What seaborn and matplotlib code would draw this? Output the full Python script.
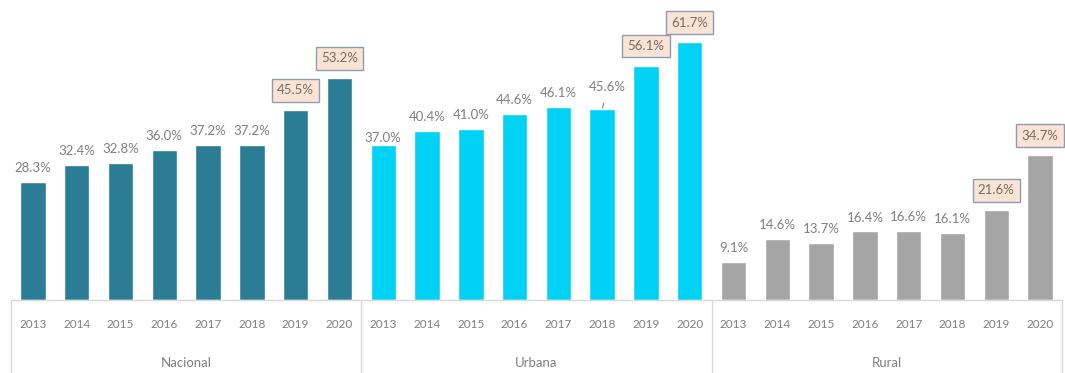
import matplotlib
matplotlib.use("Agg")
import matplotlib.pyplot as plt
import matplotlib.transforms as mtransforms
import seaborn as sns
import pandas as pd

# Share of households (%) by area, 2013-2020
years = [2013, 2014, 2015, 2016, 2017, 2018, 2019, 2020]
areas = ["Nacional", "Urbana", "Rural"]
nacional = [28.3, 32.4, 32.8, 36.0, 37.2, 37.2, 45.5, 53.2]
urbana = [37.0, 40.4, 41.0, 44.6, 46.1, 45.6, 56.1, 61.7]
rural = [9.1, 14.6, 13.7, 16.4, 16.6, 16.1, 21.6, 34.7]
highlight_years = [2019, 2020]

area_colors = {"Nacional": "#2a7d94", "Urbana": "#00d2f5", "Rural": "#a5a5a5"}

rows = []
for area, vals in zip(areas, [nacional, urbana, rural]):
    for y, v in zip(years, vals):
        rows.append({"key": f"{area}-{y}", "area": area, "year": y, "value": v})
df = pd.DataFrame(rows)

sns.set_theme(style="white")
plt.rcParams["font.family"] = ["Lato", "DejaVu Sans"]

fig = plt.figure(figsize=(10.65, 3.73), dpi=100)
ax = fig.add_axes([11 / 1065, 73 / 373, 1051 / 1065, 300 / 373])

sns.barplot(data=df, x="key", y="value", hue="area", palette=area_colors,
            dodge=False, width=0.58, saturation=1, legend=False, ax=ax)

ax.set_ylim(0, 71.8)
ax.set_xlim(-0.5, len(df) - 0.5)
ax.set_xlabel("")
ax.set_ylabel("")
ax.set_yticks([])
ax.set_xticks(range(len(df)))
ax.set_xticklabels([str(y) for y in df["year"]], fontsize=8.5, color="#808080")
ax.tick_params(axis="x", length=0, pad=14)
for s in ["top", "left", "right"]:
    ax.spines[s].set_visible(False)
ax.spines["bottom"].set_color("#d9d9d9")
ax.spines["bottom"].set_linewidth(1.0)

label_color = "#808080"
label_size = 9.5

# Value labels; the latest two years are boxed
for i, r in df.iterrows():
    label = f"{r['value']:.1f}%"
    if r["year"] in highlight_years:
        ax.annotate(label, (i, r["value"]), xytext=(0, 14), textcoords="offset points",
                    ha="center", va="center", fontsize=label_size, color="#7d6b5f",
                    bbox=dict(boxstyle="square,pad=0.4", fc="#fbe4d5", ec="#8e9cb2", lw=1.0))
    elif r["area"] == "Urbana" and r["year"] == 2018:
        ax.annotate(label, (i, r["value"]), xytext=(4, 16), textcoords="offset points",
                    ha="center", va="center", fontsize=label_size, color=label_color,
                    arrowprops=dict(arrowstyle="-", color=label_color, lw=0.8,
                                    shrinkA=5, shrinkB=1))
    elif r["area"] == "Urbana" and r["year"] == 2013:
        ax.annotate(label, (i, r["value"]), xytext=(0, 5), textcoords="offset points",
                    ha="center", va="center", fontsize=label_size, color=label_color)
    else:
        ax.annotate(label, (i, r["value"]), xytext=(0, 10), textcoords="offset points",
                    ha="center", va="center", fontsize=label_size, color=label_color)

# Group separators and group names under the year ticks
trans = mtransforms.blended_transform_factory(ax.transData, ax.transAxes)
n = len(years)
for k in range(len(areas) + 1):
    xpos = k * n - 0.5
    ax.plot([xpos, xpos], [0, -0.245], transform=trans, color="#d9d9d9",
            lw=1.0, clip_on=False)
for k, area in enumerate(areas):
    ax.text(k * n + (n - 1) / 2, -0.21, area, transform=trans, ha="center",
            va="center", fontsize=9.5, color=label_color)

fig.savefig("out.png", dpi=100)
